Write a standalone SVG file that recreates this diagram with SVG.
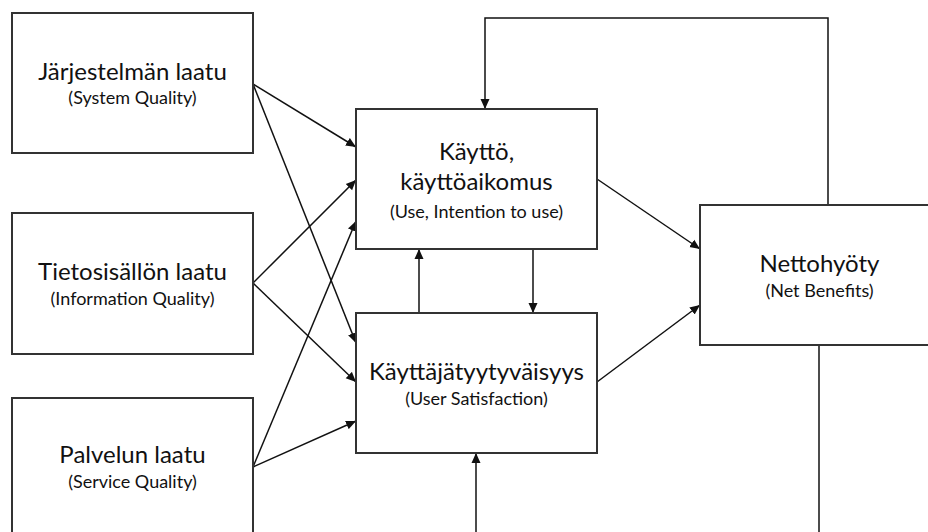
<svg xmlns="http://www.w3.org/2000/svg" width="928" height="532" viewBox="0 0 928 532">
<style>
.box{fill:#fff;stroke:#333;stroke-width:2}
.t{font-family:Lato,"Liberation Sans",sans-serif;font-size:24px;fill:#111;text-anchor:middle}
.s{font-family:Lato,"Liberation Sans",sans-serif;font-size:18px;fill:#111;text-anchor:middle}
.c{fill:none;stroke:#111;stroke-width:1.5}
.a{marker-end:url(#ah)}
</style>
<defs>
<marker id="ah" viewBox="0 0 10 10" refX="10" refY="5" markerWidth="10" markerHeight="10" markerUnits="userSpaceOnUse" orient="auto">
<path d="M0,0.5 L10,5 L0,9.5 z" fill="#111"/>
</marker>
</defs>
<rect width="928" height="532" fill="#fff"/>
<g id="connectors">
<line class="c a" x1="253" y1="84" x2="356" y2="147"/>
<line class="c a" x1="253" y1="84" x2="356" y2="343"/>
<line class="c a" x1="253" y1="283" x2="356" y2="180"/>
<line class="c a" x1="253" y1="283" x2="356" y2="382"/>
<line class="c a" x1="253" y1="467" x2="356" y2="221"/>
<line class="c a" x1="253" y1="467" x2="356" y2="421"/>
<line class="c a" x1="597" y1="179" x2="700" y2="249"/>
<line class="c a" x1="597" y1="382" x2="700" y2="305"/>
<line class="c a" x1="419" y1="313" x2="419" y2="249"/>
<line class="c a" x1="533" y1="249" x2="533" y2="313"/>
<polyline class="c a" points="828,205 828,18 485,18 485,109"/>
<line class="c" x1="819" y1="345" x2="819" y2="532"/>
<line class="c a" x1="476" y1="532" x2="476" y2="453"/>
</g>
<g id="system-quality">
<rect class="box" x="12" y="13" width="241" height="140"/>
<text class="t" x="132.5" y="80">Järjestelmän laatu</text>
<text class="s" x="132.5" y="104">(System Quality)</text>
</g>
<g id="information-quality">
<rect class="box" x="12" y="213" width="241" height="141"/>
<text class="t" x="132.5" y="280">Tietosisällön laatu</text>
<text class="s" x="132.5" y="305">(Information Quality)</text>
</g>
<g id="service-quality">
<rect class="box" x="12" y="398" width="241" height="145"/>
<text class="t" x="132.5" y="463">Palvelun laatu</text>
<text class="s" x="132.5" y="488">(Service Quality)</text>
</g>
<g id="use">
<rect class="box" x="356" y="109" width="241" height="140"/>
<text class="t" x="476.5" y="160">Käyttö,</text>
<text class="t" x="476.5" y="190">käyttöaikomus</text>
<text class="s" x="476.5" y="218">(Use, Intention to use)</text>
</g>
<g id="user-satisfaction">
<rect class="box" x="356" y="313" width="241" height="140"/>
<text class="t" x="476.5" y="380">Käyttäjätyytyväisyys</text>
<text class="s" x="476.5" y="405">(User Satisfaction)</text>
</g>
<g id="net-benefits">
<rect class="box" x="700" y="205" width="240" height="140"/>
<text class="t" x="819.5" y="272">Nettohyöty</text>
<text class="s" x="819.5" y="297">(Net Benefits)</text>
</g>
</svg>
